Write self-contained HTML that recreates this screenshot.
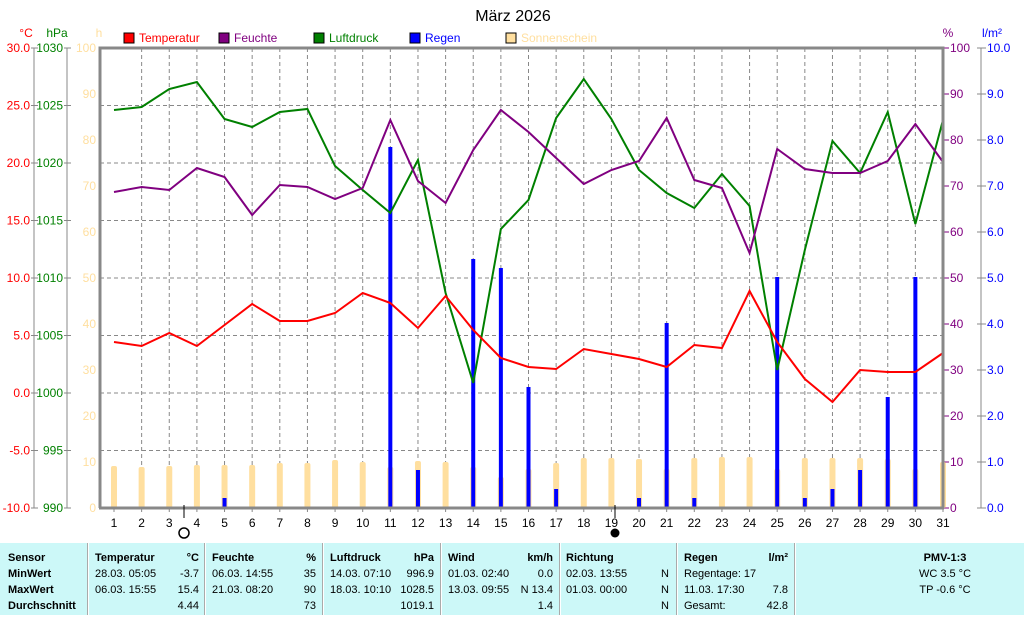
<!DOCTYPE html>
<html><head><meta charset="utf-8"><style>
body{margin:0;background:#fff;width:1024px;height:615px;overflow:hidden;font-family:"Liberation Sans",sans-serif}
svg text{font-family:"Liberation Sans",sans-serif;font-size:12px}
svg text.t{font-size:11px}
</style></head><body>
<svg id="s" width="1024" height="615" xmlns="http://www.w3.org/2000/svg"></svg>
<script>
const s=document.getElementById('s');let h='';
const X=d=>114+(d-1)*829/30;
h+='<text x="513" y="21" style="font-size:16px" text-anchor="middle">März 2026</text>';
const lg=[[124,'#f00','Temperatur','#f00'],[219,'#800080','Feuchte','#800080'],[314,'#008000','Luftdruck','#008000'],[410,'#00f','Regen','#00f'],[506,'#ffdf9f','Sonnenschein','#ffdf9f']];
lg.forEach(l=>{h+=`<rect x="${l[0]}" y="33" width="10" height="10" fill="${l[1]}" stroke="#000"/><text x="${l[0]+15}" y="42" fill="${l[3]}">${l[2]}</text>`});
h+='<text x="26" y="37" fill="#f00" text-anchor="middle">°C</text><text x="57" y="37" fill="#008000" text-anchor="middle">hPa</text><text x="99" y="37" fill="#ffdf9f" text-anchor="middle">h</text><text x="948" y="37" fill="#800080" text-anchor="middle">%</text><text x="992" y="37" fill="#00f" text-anchor="middle">l/m²</text>';
for(let d=2;d<=30;d++){let x=X(d);h+=`<line x1="${x}" y1="48" x2="${x}" y2="508" stroke="#888" stroke-dasharray="4,3"/>`}
for(let i=1;i<8;i++){let y=48+i*57.5;h+=`<line x1="100" y1="${y}" x2="943" y2="${y}" stroke="#888" stroke-dasharray="4,3"/>`}
h+='<line x1="34" y1="48" x2="34" y2="508" stroke="#888"/><line x1="67" y1="48" x2="67" y2="508" stroke="#888"/>';
for(let i=0;i<9;i++){let y=48+i*57.5;let t=(30-5*i).toFixed(1),p=1030-5*i;
h+=`<line x1="31" y1="${y}" x2="38" y2="${y}" stroke="#888"/><line x1="64" y1="${y}" x2="71" y2="${y}" stroke="#888"/><text x="30" y="${y+4}" fill="#f00" text-anchor="end">${t}</text><text x="63" y="${y+4}" fill="#008000" text-anchor="end">${p}</text>`}
for(let i=0;i<=10;i++){let y=48+i*46;h+=`<text x="96" y="${y+4}" fill="#ffdf9f" text-anchor="end">${100-10*i}</text><line x1="943" y1="${y}" x2="949" y2="${y}" stroke="#800080"/><text x="950" y="${y+4}" fill="#800080">${100-10*i}</text><line x1="977" y1="${y}" x2="986" y2="${y}" stroke="#888"/><text x="987" y="${y+4}" fill="#00f">${(10-i).toFixed(1)}</text>`}
h+='<line x1="981" y1="48" x2="981" y2="508" stroke="#888"/>';
const sun=[466,467,466,465,465,465,463,463,460,462,467,461,462,467,477,469,463,458,458,459,469,458,457,457,469,458,458,458,459,469,462];
sun.forEach((y,i)=>{h+=`<rect x="${X(i+1)-3}" y="${y}" width="6" height="${508-y}" rx="2" fill="#ffdf9f"/>`});
const rain={5:498,11:147,12:470,14:259,15:268,16:387,17:489,20:498,21:323,22:498,25:277,26:498,27:489,28:470,29:397,30:277};
for(const d in rain)h+=`<rect x="${X(+d)-2}" y="${rain[d]}" width="4" height="${508-rain[d]}" fill="#00f"/>`;
const line=(a,c)=>`<polyline fill="none" stroke="${c}" stroke-width="2" points="${a.map((y,i)=>X(i+1)+','+y).join(' ')}"/>`;
h+=line([110,107,89,82,119,127,112,109,166,190,213,160,293,383,229,200,118,79,119,170,193,208,174,206,370,250,141,173,112,224,120],'#008000');
h+=line([192,187,190,168,177,215,185,187,199,188,120,181,203,150,110,132,158,184,170,161,118,180,188,253,149,169,173,173,161,124,162],'#800080');
h+=line([342,346,333,346,325,304,321,321,313,293,303,328,296,330,358,367,369,349,354,359,367,345,348,291,342,379,402,370,372,372,353],'#f00');
h+='<polyline points="100,508 100,48 943,48 943,508" fill="none" stroke="#888" stroke-width="3"/><line x1="99" y1="508" x2="944" y2="508" stroke="#888" stroke-width="3"/>';
for(let d=1;d<=31;d++)h+=`<line x1="${X(d)}" y1="508" x2="${X(d)}" y2="512" stroke="#888"/><text x="${X(d)}" y="527" text-anchor="middle">${d}</text>`;
h+='<line x1="184" y1="505" x2="184" y2="518" stroke="#000"/><circle cx="184" cy="533" r="5" fill="none" stroke="#000" stroke-width="1.5"/><line x1="615" y1="505" x2="615" y2="518" stroke="#000"/><circle cx="615" cy="533" r="4.5" fill="#000"/>';
h+='<rect x="0" y="543" width="1024" height="72" fill="#ccf8f8"/>';
[88,205,323,441,560,677,795].forEach(x=>{h+=`<rect x="${x-1}" y="543" width="2" height="72" fill="#aaa"/><rect x="${x}" y="543" width="1" height="72" fill="#fff"/>`});
const T=(x,y,t,a,b)=>{h+=`<text class="t" x="${x}" y="${y}" ${a?'text-anchor="end"':''} ${b?'font-weight="bold"':''}>${t}</text>`};
const rows=[561,577,593,609];
['Sensor','MinWert','MaxWert','Durchschnitt'].forEach((t,i)=>T(8,rows[i],t,0,1));
T(95,561,'Temperatur',0,1);T(199,561,'°C',1,1);T(95,577,'28.03.  05:05');T(199,577,'-3.7',1);T(95,593,'06.03.  15:55');T(199,593,'15.4',1);T(199,609,'4.44',1);
T(212,561,'Feuchte',0,1);T(316,561,'%',1,1);T(212,577,'06.03.  14:55');T(316,577,'35',1);T(212,593,'21.03.  08:20');T(316,593,'90',1);T(316,609,'73',1);
T(330,561,'Luftdruck',0,1);T(434,561,'hPa',1,1);T(330,577,'14.03.  07:10');T(434,577,'996.9',1);T(330,593,'18.03.  10:10');T(434,593,'1028.5',1);T(434,609,'1019.1',1);
T(448,561,'Wind',0,1);T(553,561,'km/h',1,1);T(448,577,'01.03.  02:40');T(553,577,'0.0',1);T(448,593,'13.03.  09:55');T(553,593,'N 13.4',1);T(553,609,'1.4',1);
T(566,561,'Richtung',0,1);T(669,577,'N',1);T(669,593,'N',1);T(669,609,'N',1);T(566,577,'02.03.  13:55');T(566,593,'01.03.  00:00');
T(684,561,'Regen',0,1);T(788,561,'l/m²',1,1);T(684,577,'Regentage: 17');T(684,593,'11.03.  17:30');T(788,593,'7.8',1);T(684,609,'Gesamt:');T(788,609,'42.8',1);
h+='<text class="t" x="945" y="561" text-anchor="middle" font-weight="bold">PMV-1:3</text><text class="t" x="945" y="577" text-anchor="middle">WC 3.5 °C</text><text class="t" x="945" y="593" text-anchor="middle">TP -0.6 °C</text>';
s.innerHTML=h;
</script>
</body></html>
